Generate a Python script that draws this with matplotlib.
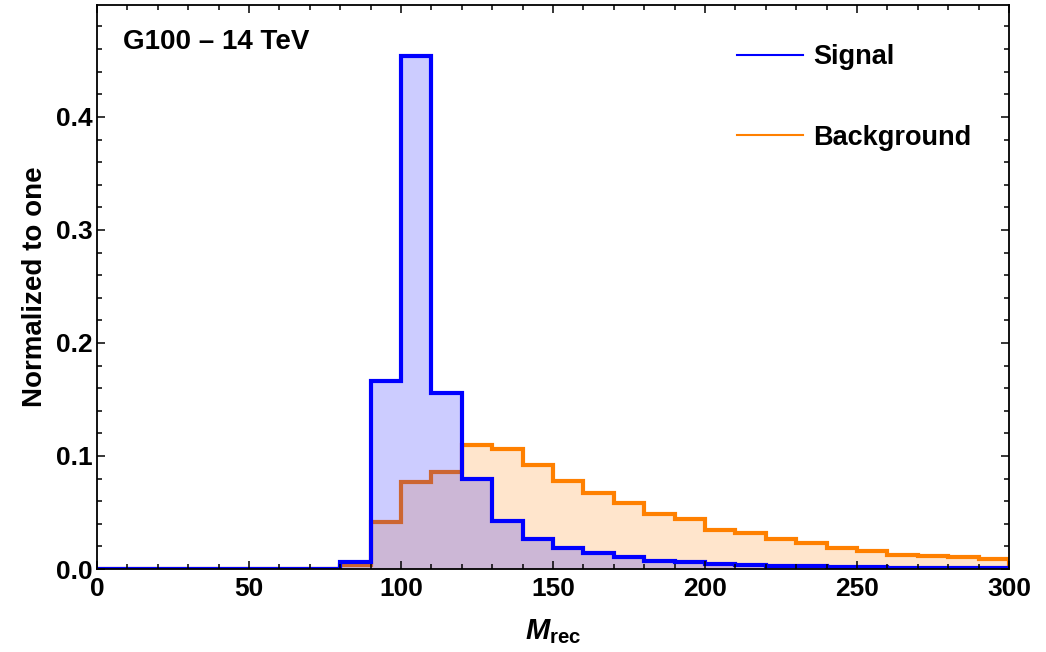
import numpy as np
import matplotlib
matplotlib.use('Agg')
from matplotlib import pyplot as plt
from matplotlib.lines import Line2D

plt.rcParams['font.family'] = ['Liberation Sans', 'DejaVu Sans']
plt.rcParams['font.weight'] = 'bold'
plt.rcParams['mathtext.fontset'] = 'custom'
plt.rcParams['mathtext.it'] = 'Liberation Sans:italic:bold'
plt.rcParams['mathtext.rm'] = 'Liberation Sans:bold'
plt.rcParams['mathtext.bf'] = 'Liberation Sans:bold'

# bin edges 0..300 in steps of 10
edges = np.arange(0, 310, 10)

signal = [0, 0, 0, 0, 0, 0, 0, 0, 0.006, 0.166, 0.454, 0.156, 0.080, 0.0425,
          0.0265, 0.019, 0.014, 0.0103, 0.0075, 0.006, 0.0047, 0.0038, 0.003,
          0.0025, 0.002, 0.0016, 0.0013, 0.0011, 0.0009, 0.0007]
background = [0, 0, 0, 0, 0, 0, 0, 0, 0.0035, 0.042, 0.077, 0.086, 0.110, 0.106,
              0.092, 0.078, 0.0675, 0.0587, 0.049, 0.044, 0.0345, 0.0316, 0.0263,
              0.0227, 0.0189, 0.016, 0.0124, 0.0115, 0.0103, 0.0086]

blue = (0, 0, 1)
orange = (1, 0.5, 0)

fig = plt.figure(figsize=(10.46, 6.52), dpi=100)
ax = fig.add_axes([0.0927, 0.1273, 0.872, 0.865])

ax.stairs(background, edges, fill=True, color=orange, alpha=0.2, lw=0)
ax.stairs(background, edges, color=orange, lw=3)
ax.stairs(signal, edges, fill=True, color=blue, alpha=0.2, lw=0)
ax.stairs(signal, edges, color=blue, lw=3)

ax.set_xlim(0, 300)
ax.set_ylim(0, 0.499)
ax.set_xticks(np.arange(0, 301, 50))
ax.set_xticks(np.arange(0, 301, 10), minor=True)
ax.set_yticks([0.0, 0.1, 0.2, 0.3, 0.4])
ax.set_yticks(np.arange(0, 0.5, 0.02), minor=True)
ax.set_yticklabels(['0.0', '0.1', '0.2', '0.3', '0.4'])
ax.tick_params(which='both', direction='in', top=True, right=True, width=1.1)
ax.tick_params(which='major', length=6, labelsize=19, pad=3)
ax.tick_params(axis='x', which='major', pad=5.5)
ax.tick_params(which='minor', length=3.5)
for s in ax.spines.values():
    s.set_linewidth(1.3)

ax.set_ylabel('Normalized to one', fontsize=20, fontweight='bold', labelpad=6)
ax.set_xlabel(r'$M_{\mathrm{rec}}$', fontsize=21, labelpad=12)

ax.text(0.0285, 0.935, 'G100 \u2013 14 TeV', transform=ax.transAxes,
        fontsize=20, fontweight='bold', va='center', ha='left')

handles = [Line2D([], [], color=blue, lw=1.5), Line2D([], [], color=orange, lw=1.5)]
ax.legend(handles, ['Signal', 'Background'], loc='upper left',
          bbox_to_anchor=(0.702, 0.93), frameon=False, fontsize=19.5,
          handlelength=2.44, handletextpad=0.37, labelspacing=2.0,
          borderpad=0, borderaxespad=0)

plt.savefig('out.png', dpi=100)
